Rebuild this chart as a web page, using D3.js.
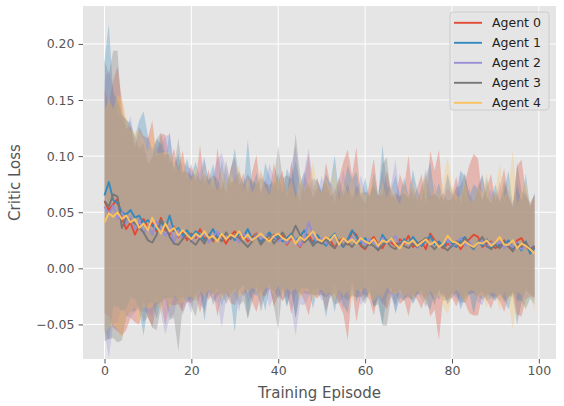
<!DOCTYPE html>
<html><head><meta charset="utf-8">
<script src="https://cdn.jsdelivr.net/npm/d3@7"></script>
<style>body{margin:0;background:#fff}svg{display:block;font-family:"DejaVu Sans",sans-serif}</style>
</head><body>
<script>
const agents = ["Agent 0","Agent 1","Agent 2","Agent 3","Agent 4"];
const colors = ["#E24A33","#348ABD","#988ED5","#777777","#FBC15E"];
const xTicks = [0,20,40,60,80,100];
const yTicks = [-0.05,0,0.05,0.10,0.15,0.20];

const mean0 = [0.060,0.052,0.057,0.062,0.045,0.035,0.041,0.030,0.038,0.044,
0.036,0.040,0.033,0.045,0.034,0.030,0.037,0.028,0.033,0.025,
0.031,0.027,0.035,0.026,0.030,0.024,0.032,0.028,0.022,0.029,
0.033,0.027,0.030,0.024,0.028,0.031,0.022,0.027,0.025,0.030,
0.026,0.029,0.021,0.027,0.024,0.019,0.026,0.030,0.023,0.027,
0.022,0.028,0.025,0.018,0.024,0.027,0.021,0.033,0.030,0.020,
0.017,0.024,0.028,0.021,0.018,0.025,0.023,0.020,0.026,0.022,
0.029,0.019,0.022,0.024,0.017,0.031,0.025,0.021,0.018,0.022,
0.020,0.024,0.017,0.023,0.026,0.030,0.028,0.019,0.022,0.024,
0.018,0.021,0.025,0.019,0.016,0.025,0.027,0.020,0.015,0.019];
const mean1 = [0.065,0.077,0.061,0.058,0.050,0.048,0.052,0.045,0.047,0.040,
0.043,0.038,0.035,0.041,0.036,0.047,0.033,0.036,0.029,0.034,
0.028,0.033,0.030,0.025,0.029,0.035,0.027,0.031,0.026,0.030,
0.025,0.031,0.028,0.035,0.026,0.030,0.024,0.028,0.032,0.026,
0.029,0.024,0.027,0.031,0.025,0.028,0.034,0.026,0.022,0.030,
0.024,0.020,0.027,0.031,0.023,0.019,0.026,0.034,0.028,0.022,
0.027,0.021,0.025,0.018,0.030,0.024,0.027,0.021,0.019,0.026,
0.022,0.028,0.023,0.020,0.025,0.029,0.021,0.024,0.019,0.026,
0.022,0.019,0.025,0.028,0.021,0.017,0.024,0.020,0.026,0.018,
0.023,0.019,0.021,0.025,0.018,0.022,0.016,0.024,0.013,0.018];
const mean2 = [0.055,0.048,0.056,0.044,0.050,0.040,0.046,0.035,0.043,0.031,
0.038,0.030,0.042,0.035,0.029,0.038,0.023,0.034,0.026,0.031,
0.024,0.030,0.027,0.032,0.023,0.028,0.033,0.025,0.030,0.026,
0.029,0.023,0.031,0.027,0.025,0.030,0.026,0.029,0.029,0.028,
0.024,0.027,0.022,0.029,0.025,0.020,0.027,0.041,0.030,0.023,
0.027,0.022,0.025,0.029,0.020,0.026,0.023,0.028,0.022,0.025,
0.021,0.026,0.023,0.019,0.027,0.022,0.025,0.029,0.020,0.024,
0.021,0.025,0.018,0.023,0.027,0.020,0.024,0.019,0.022,0.026,
0.019,0.023,0.027,0.020,0.024,0.018,0.022,0.025,0.019,0.023,
0.020,0.024,0.018,0.022,0.019,0.023,0.017,0.021,0.018,0.020];
const mean3 = [0.060,0.055,0.066,0.064,0.036,0.045,0.043,0.040,0.036,0.032,
0.025,0.023,0.030,0.043,0.038,0.028,0.022,0.021,0.026,0.031,
0.024,0.021,0.027,0.022,0.030,0.025,0.028,0.024,0.032,0.026,
0.030,0.027,0.023,0.019,0.024,0.029,0.021,0.026,0.030,0.022,
0.027,0.032,0.025,0.029,0.038,0.030,0.023,0.027,0.020,0.024,
0.022,0.026,0.021,0.018,0.025,0.020,0.023,0.019,0.024,0.021,
0.018,0.022,0.020,0.016,0.021,0.024,0.019,0.017,0.023,0.020,
0.018,0.022,0.019,0.024,0.027,0.021,0.017,0.022,0.019,0.016,
0.020,0.024,0.022,0.027,0.021,0.018,0.023,0.028,0.020,0.017,
0.021,0.018,0.024,0.020,0.015,0.022,0.019,0.023,0.017,0.020];
const mean4 = [0.041,0.049,0.046,0.050,0.044,0.047,0.041,0.044,0.036,0.040,
0.034,0.045,0.037,0.031,0.040,0.033,0.036,0.029,0.034,0.030,
0.026,0.031,0.028,0.033,0.027,0.029,0.024,0.031,0.026,0.030,
0.028,0.033,0.026,0.030,0.025,0.028,0.031,0.027,0.024,0.029,
0.031,0.027,0.025,0.029,0.022,0.028,0.025,0.029,0.033,0.026,
0.024,0.028,0.025,0.030,0.021,0.027,0.023,0.026,0.022,0.027,
0.024,0.022,0.026,0.020,0.025,0.023,0.027,0.021,0.018,0.024,
0.022,0.025,0.020,0.023,0.026,0.021,0.024,0.019,0.022,0.029,
0.024,0.023,0.020,0.024,0.021,0.019,0.023,0.022,0.025,0.020,
0.023,0.028,0.021,0.021,0.025,0.018,0.022,0.020,0.017,0.013];

const std0 = [0.100,0.095,0.110,0.118,0.105,0.090,0.085,0.078,0.088,0.074,
0.080,0.092,0.066,0.075,0.085,0.062,0.070,0.060,0.072,0.055,
0.062,0.050,0.075,0.048,0.058,0.045,0.075,0.052,0.044,0.060,
0.066,0.046,0.055,0.042,0.058,0.070,0.045,0.052,0.043,0.064,
0.050,0.058,0.042,0.068,0.047,0.040,0.055,0.072,0.046,0.054,
0.044,0.066,0.050,0.040,0.056,0.068,0.085,0.050,0.078,0.045,
0.040,0.052,0.070,0.044,0.048,0.062,0.046,0.041,0.058,0.050,
0.072,0.042,0.050,0.060,0.040,0.074,0.062,0.085,0.042,0.050,
0.046,0.058,0.040,0.054,0.066,0.072,0.070,0.042,0.050,0.060,
0.042,0.050,0.064,0.045,0.038,0.066,0.070,0.048,0.040,0.046];
const std1 = [0.120,0.141,0.095,0.092,0.088,0.084,0.078,0.072,0.085,0.100,
0.075,0.068,0.080,0.070,0.062,0.074,0.058,0.066,0.054,0.064,
0.055,0.062,0.048,0.072,0.050,0.058,0.045,0.065,0.047,0.056,
0.082,0.050,0.043,0.080,0.047,0.055,0.042,0.066,0.050,0.046,
0.056,0.043,0.062,0.048,0.070,0.046,0.052,0.044,0.058,0.048,
0.046,0.064,0.048,0.070,0.042,0.052,0.066,0.045,0.058,0.040,
0.054,0.042,0.060,0.046,0.080,0.050,0.043,0.062,0.045,0.055,
0.042,0.060,0.047,0.040,0.056,0.066,0.043,0.052,0.040,0.058,
0.048,0.040,0.062,0.054,0.043,0.058,0.047,0.040,0.055,0.044,
0.052,0.041,0.048,0.062,0.039,0.050,0.045,0.060,0.040,0.050];
const std2 = [0.112,0.128,0.105,0.092,0.085,0.082,0.090,0.074,0.080,0.070,
0.078,0.072,0.066,0.075,0.088,0.082,0.064,0.056,0.068,0.060,
0.064,0.050,0.060,0.068,0.046,0.056,0.064,0.078,0.058,0.045,
0.054,0.062,0.045,0.058,0.050,0.043,0.060,0.047,0.064,0.052,
0.044,0.056,0.047,0.064,0.085,0.052,0.060,0.066,0.048,0.042,
0.056,0.044,0.052,0.042,0.048,0.062,0.043,0.054,0.041,0.058,
0.048,0.041,0.055,0.044,0.060,0.042,0.050,0.068,0.041,0.050,
0.045,0.056,0.040,0.050,0.062,0.042,0.052,0.040,0.046,0.058,
0.042,0.050,0.060,0.040,0.048,0.039,0.052,0.058,0.041,0.048,
0.044,0.054,0.040,0.048,0.039,0.054,0.042,0.048,0.041,0.045];
const std3 = [0.125,0.118,0.128,0.130,0.100,0.088,0.082,0.078,0.070,0.080,
0.068,0.076,0.085,0.078,0.064,0.074,0.066,0.095,0.060,0.055,
0.058,0.064,0.050,0.062,0.048,0.058,0.052,0.046,0.064,0.050,
0.048,0.060,0.052,0.064,0.054,0.046,0.060,0.050,0.044,0.056,
0.082,0.048,0.058,0.050,0.082,0.054,0.045,0.050,0.043,0.048,
0.046,0.052,0.043,0.050,0.056,0.045,0.052,0.043,0.050,0.046,
0.050,0.043,0.054,0.048,0.072,0.075,0.044,0.050,0.041,0.047,
0.044,0.050,0.041,0.048,0.056,0.043,0.050,0.040,0.048,0.044,
0.042,0.048,0.052,0.058,0.044,0.040,0.048,0.056,0.044,0.041,
0.048,0.041,0.054,0.045,0.040,0.072,0.050,0.042,0.040,0.046];
const std4 = [0.100,0.102,0.096,0.104,0.108,0.088,0.082,0.078,0.086,0.074,
0.070,0.080,0.066,0.072,0.064,0.070,0.060,0.058,0.066,0.055,
0.052,0.060,0.048,0.058,0.046,0.054,0.044,0.060,0.047,0.055,
0.048,0.060,0.044,0.052,0.042,0.048,0.058,0.045,0.041,0.054,
0.046,0.055,0.043,0.050,0.040,0.056,0.045,0.050,0.062,0.046,
0.043,0.052,0.046,0.060,0.040,0.052,0.043,0.056,0.041,0.048,
0.041,0.047,0.056,0.043,0.052,0.040,0.048,0.044,0.039,0.050,
0.043,0.054,0.040,0.048,0.060,0.041,0.050,0.043,0.056,0.070,
0.050,0.042,0.044,0.054,0.041,0.039,0.050,0.045,0.060,0.041,
0.046,0.066,0.042,0.050,0.080,0.039,0.046,0.058,0.040,0.052];

const means = [mean0,mean1,mean2,mean3,mean4];
const stds = [std0,std1,std2,std3,std4];

const W = 564, H = 406;
const L = 83, R = 556, T = 6, B = 359;
const svg = d3.select("body").append("svg").attr("width",W).attr("height",H);

const x = d3.scaleLinear().domain([-4.95,103.95]).range([L,R]);
const y = d3.scaleLinear().domain([-0.0808,0.2338]).range([B,T]);

svg.append("rect").attr("x",L).attr("y",T).attr("width",R-L).attr("height",B-T).attr("fill","#E5E5E5");

// grid
svg.append("g").selectAll("line").data(xTicks).join("line")
  .attr("x1",d=>x(d)).attr("x2",d=>x(d)).attr("y1",T).attr("y2",B)
  .attr("stroke","#fff").attr("stroke-width",1);
svg.append("g").selectAll("line").data(yTicks).join("line")
  .attr("y1",d=>y(d)).attr("y2",d=>y(d)).attr("x1",L).attr("x2",R)
  .attr("stroke","#fff").attr("stroke-width",1);

// bands
const area = d3.area().x((d,i)=>x(i)).y0(d=>y(d[0]-d[1])).y1(d=>y(d[0]+d[1]));
means.forEach((m,k)=>{
  const pts = m.map((v,i)=>[v,stds[k][i]]);
  svg.append("path").datum(pts).attr("d",area).attr("fill",colors[k]).attr("fill-opacity",0.3);
});
// lines
const line = d3.line().x((d,i)=>x(i)).y(d=>y(d));
means.forEach((m,k)=>{
  svg.append("path").datum(m).attr("d",line).attr("fill","none")
    .attr("stroke",colors[k]).attr("stroke-width",1.9).attr("stroke-linejoin","round");
});

// axes
const xAxis = d3.axisBottom(x).tickValues(xTicks).tickSize(4.5).tickPadding(3).tickFormat(d3.format("d"));
const gx = svg.append("g").attr("transform",`translate(0,${B})`).call(xAxis);
const yAxis = d3.axisLeft(y).tickValues(yTicks).tickSize(4.5).tickPadding(4)
  .tickFormat(d=> d<0 ? "\u2212"+d3.format(".2f")(-d) : d3.format(".2f")(d));
const gy = svg.append("g").attr("transform",`translate(${L},0)`).call(yAxis);
[gx,gy].forEach(g=>{
  g.select(".domain").remove();
  g.selectAll(".tick line").attr("stroke","#555555").attr("stroke-width",1);
  g.selectAll(".tick text").attr("fill","#555555").attr("font-size","12.5px").attr("font-family","DejaVu Sans");
});

svg.append("text").attr("x",(L+R)/2).attr("y",398).attr("text-anchor","middle")
  .attr("fill","#555555").attr("font-size","15px").text("Training Episode");
svg.append("text").attr("transform",`translate(20,${(T+B)/2}) rotate(-90)`).attr("text-anchor","middle")
  .attr("fill","#555555").attr("font-size","15px").text("Critic Loss");

// legend
const lg = svg.append("g");
lg.append("rect").attr("x",450).attr("y",12).attr("width",99).attr("height",98).attr("rx",3)
  .attr("fill","#E5E5E5").attr("fill-opacity",0.8).attr("stroke","#CCCCCC").attr("stroke-width",1);
agents.forEach((a,k)=>{
  const yy = 22.8 + k*20;
  lg.append("line").attr("x1",454).attr("x2",482).attr("y1",yy).attr("y2",yy)
    .attr("stroke",colors[k]).attr("stroke-width",1.9);
  lg.append("text").attr("x",492).attr("y",yy).attr("dy","0.36em").attr("font-size","12.5px")
    .attr("fill","#222").text(a);
});
</script>
</body></html>
